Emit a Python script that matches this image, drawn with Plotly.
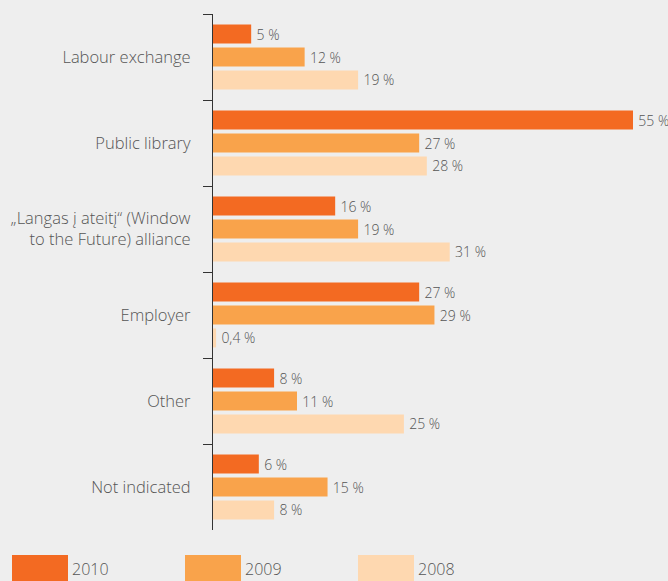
import plotly.graph_objects as go

# Where respondents learned about the service, share by year (%)
categories = [
    "Labour exchange",
    "Public library",
    "„Langas į ateitį“ (Window<br>to the Future) alliance",
    "Employer",
    "Other",
    "Not indicated",
]
years = ["2010", "2009", "2008"]
values_2010 = [5, 55, 16, 27, 8, 6]
values_2009 = [12, 27, 19, 29, 11, 15]
values_2008 = [19, 28, 31, 0.4, 25, 8]
series = [values_2010, values_2009, values_2008]
colors = ["#f36a22", "#f9a34b", "#fed8b0"]

W, H = 668, 581
L, R, T, B = 213, 12, 14, 51
plot_w = W - L - R
plot_h = H - T - B
bg = "#eeeeee"
text_color = "#555555"
font_family = "Open Sans, Noto Sans, sans-serif"


def fmt(v):
    s = f"{v:g}".replace(".", ",")
    return f"\u2009{s} %"


fig = go.Figure()
for year, vals, col in zip(years, series, colors):
    fig.add_trace(go.Bar(
        y=categories,
        x=vals,
        name=year,
        orientation="h",
        marker=dict(color=col, line=dict(width=0)),
        text=[fmt(v) for v in vals],
        textposition="outside",
        textfont=dict(size=14, color=text_color, family=font_family, weight=300),
        cliponaxis=False,
        hoverinfo="skip",
    ))

# Legend drawn as wide swatches along the bottom edge
def px_x(px):
    return (px - L) / plot_w


def px_y(py):
    return (T + plot_h - py) / plot_h


swatch_left = [12, 185, 358]
for year, col, x0 in zip(years, colors, swatch_left):
    fig.add_shape(type="rect", xref="paper", yref="paper",
                  x0=px_x(x0), x1=px_x(x0 + 56),
                  y0=px_y(595), y1=px_y(555),
                  fillcolor=col, line=dict(width=0), layer="above")
    fig.add_annotation(xref="paper", yref="paper",
                       x=px_x(x0 + 58), y=px_y(569),
                       xanchor="left", yanchor="middle",
                       text=year, showarrow=False,
                       font=dict(size=16, color=text_color, family=font_family, weight=300))

fig.update_layout(
    width=W, height=H,
    margin=dict(l=L, r=R, t=T, b=B, autoexpand=False),
    paper_bgcolor=bg, plot_bgcolor=bg,
    barmode="group",
    bargap=0.2,
    bargroupgap=0.17,
    showlegend=False,
    font=dict(family=font_family, color=text_color),
    xaxis=dict(range=[0, plot_w / (420 / 55)], visible=False, fixedrange=True,
               automargin=False),
    yaxis=dict(
        autorange="reversed",
        automargin=False,
        tickson="boundaries",
        ticks="outside",
        ticklen=9,
        tickcolor="#333333",
        tickwidth=1.3,
        showline=True,
        linecolor="#333333",
        linewidth=1.3,
        showgrid=False,
        tickfont=dict(size=16.5, color=text_color, family=font_family, weight=300),
        ticklabelstandoff=18,
        fixedrange=True,
    ),
)

fig.write_html("out.html")
